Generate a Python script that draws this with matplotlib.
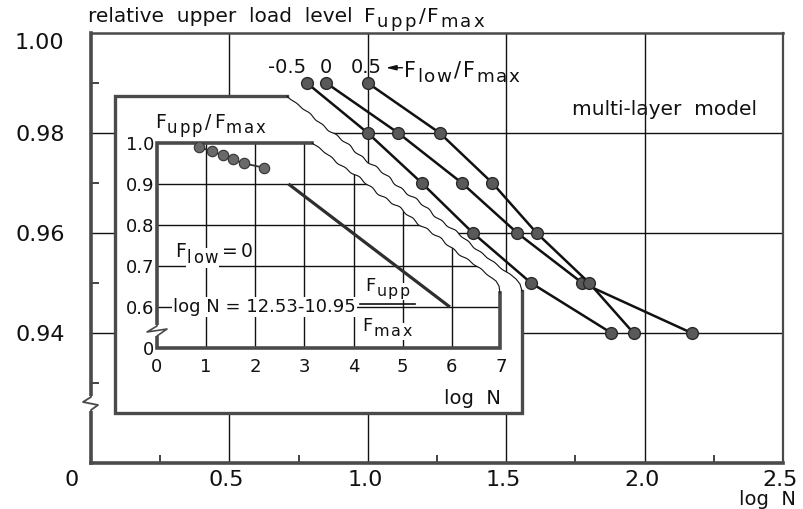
import numpy as np
import matplotlib
matplotlib.use("Agg")
import matplotlib.pyplot as plt
from matplotlib.transforms import Affine2D, ScaledTranslation
from matplotlib.patches import Polygon
from matplotlib.lines import Line2D

# ---------------------------------------------------------------- data
f_upp = [0.99, 0.98, 0.97, 0.96, 0.95, 0.94]          # relative upper load level
log_n_low_m05 = [0.78, 1.00, 1.195, 1.38, 1.59, 1.88]  # F_low/F_max = -0.5
log_n_low_0 = [0.85, 1.11, 1.34, 1.54, 1.775, 2.17]    # F_low/F_max = 0
log_n_low_05 = [1.00, 1.26, 1.45, 1.61, 1.80, 1.96]    # F_low/F_max = 0.5
f_low_labels = ["-0.5", "0", "0.5"]

main_xticks = [0, 0.5, 1.0, 1.5, 2.0, 2.5]
main_xticklabels = ["0", "0.5", "1.0", "1.5", "2.0", "2.5"]
main_yticks = [0.94, 0.96, 0.98, 1.00]
main_yticklabels = ["0.94", "0.96", "0.98", "1.00"]
main_xminor = [0.25, 0.75, 1.25, 1.75, 2.25]
main_yminor = [0.93, 0.95, 0.97, 0.99]

inset_xticks = [0, 1, 2, 3, 4, 5, 6, 7]
inset_xticklabels = ["0", "1", "2", "3", "4", "5", "6", "7"]
inset_yticks = [0.5, 0.6, 0.7, 0.8, 0.9, 1.0]
inset_yticklabels = ["0", "0.6", "0.7", "0.8", "0.9", "1.0"]

# fatigue line  log N = a - b * F_upp/F_max
fit_a, fit_b = 12.53, 10.95
fit_f = [0.9, 0.6]
fit_logn = [fit_a - fit_b * f for f in fit_f]

# ---------------------------------------------------------------- setup
plt.rcParams["font.family"] = ["DejaVu Sans"]

W, H = 804, 509
fig = plt.figure(figsize=(W / 100, H / 100), dpi=100)
RENDERER = fig.canvas.get_renderer()
# pixel coordinates measured from the top-left corner of the figure
PX = Affine2D().scale(1 / W, -1 / H).translate(0, 1) + fig.transFigure
INK = "#111111"
FRAME = "#4a4a4a"


def rich(x, base, parts, size, bbox=None, zorder=3):
    """Write text pieces (text, scale, drop, gap[, tracking]) on a common baseline."""
    texts, cur = [], x
    for part in parts:
        s, scale, drop, gap = part[:4]
        track = part[4] if len(part) > 4 else 0
        cur += gap
        chunks = list(s) if track else [s]
        for k, ch in enumerate(chunks):
            if k:
                cur += track
            t = fig.text(cur, base + drop, ch, transform=PX, fontsize=size * scale,
                         ha="left", va="baseline", color=INK, bbox=bbox, zorder=zorder)
            cur += t.get_window_extent(renderer=RENDERER).width
            texts.append(t)
    return texts, cur - x


def f_ratio(sub1, sub2, scale=0.88, drop=5, track=1.5, lead=0):
    return [("F", 1, 0, lead), (sub1, scale, drop, 1, track), ("/", 1, 0, 3),
            ("F", 1, 0, 2), (sub2, scale, drop, 1, track)]


# ---------------------------------------------------------------- main axes
ax = fig.add_axes([91 / W, (H - 463) / H, 692 / W, 430 / H])
ax.set_xlim(0, 2.5)
ax.set_ylim(0.914, 1.0)
for side, lw in (("left", 2.6), ("bottom", 2.6), ("top", 1.8), ("right", 1.6)):
    ax.spines[side].set_linewidth(lw)
    ax.spines[side].set_color(FRAME)

ax.set_xticks(main_xticks, main_xticklabels)
ax.set_yticks(main_yticks, main_yticklabels)
ax.set_xticks(main_xminor, minor=True)
ax.set_yticks(main_yminor, minor=True)
ax.tick_params(which="major", length=0, labelsize=16, colors=INK)
ax.tick_params(axis="y", which="major", pad=19)
ax.tick_params(axis="x", which="major", pad=5)
ax.tick_params(which="minor", direction="in", length=6, width=1.1, color=INK)

for lbl in ax.get_xticklabels():
    dx = -19 if lbl.get_text() == "0" else -3
    lbl.set_transform(lbl.get_transform() + ScaledTranslation(dx / 100, 0, fig.dpi_scale_trans))
for lbl in ax.get_yticklabels():
    if lbl.get_text() == "1.00":
        lbl.set_transform(lbl.get_transform() + ScaledTranslation(0, -8 / 100, fig.dpi_scale_trans))

for y in main_yticks[:-1]:
    ax.axhline(y, color=INK, lw=1.0, zorder=1)
for x in main_xticks[1:-1]:
    ax.axvline(x, color=INK, lw=1.0, zorder=1)

series = [log_n_low_m05, log_n_low_0, log_n_low_05]
label_dx = [-14, 0, -1]
for xs, lab, dx in zip(series, f_low_labels, label_dx):
    ax.plot(xs, f_upp, "-o", color=INK, lw=1.8, ms=8.5, mfc="#595959",
            mec="#2a2a2a", mew=1.0, zorder=4)
    ax.annotate(lab, xy=(xs[0], f_upp[0]), xytext=(dx, 11),
                textcoords="offset points", ha="center", va="center",
                fontsize=14, color=INK)

# arrow pointing from the F_low/F_max legend to the series labels
x05, y05 = log_n_low_05[0], f_upp[0]
head = ax.transData + ScaledTranslation(13 / 72, 11 / 72, fig.dpi_scale_trans)
ax.annotate("", xy=(x05, y05), xycoords=head, xytext=(12, 0),
            textcoords="offset points",
            arrowprops=dict(arrowstyle="-|>,head_length=0.6,head_width=0.15",
                            lw=1.0, color=INK, shrinkA=0, shrinkB=0))
rich(404, 77, f_ratio("low", "max"), 15)

ax.text(0.829, 0.821, "multi-layer  model", transform=ax.transAxes,
        ha="center", va="center", fontsize=14.5, color=INK)
ax.text(0.978, -0.086, "log  N", transform=ax.transAxes, ha="center",
        va="center", fontsize=14, color=INK)
rich(88, 22, [("relative  upper  load  level", 1, 0, 0)] +
     f_ratio("upp", "max", scale=0.9, track=2.5, lead=11), 14.5)

# axis break on the left spine
ax.add_patch(Polygon([(86, 396), (97, 396), (97, 411), (86, 411)], closed=True,
                     transform=PX, fc="white", ec="none", zorder=5, clip_on=False))
ax.add_line(Line2D([91, 91, 83, 98, 91, 91], [392, 397, 402, 405, 410, 414],
                   transform=PX, color=FRAME, lw=1.3, zorder=6, clip_on=False))


# ---------------------------------------------------------------- inset
def wavy(p0, p1, n=200, amp=0.9, period=17.0, phase=0.0):
    p0, p1 = np.asarray(p0, float), np.asarray(p1, float)
    d = p1 - p0
    length = np.hypot(*d)
    t = np.linspace(0, 1, n)
    s = t * length
    nrm = np.array([-d[1], d[0]]) / length
    env = np.sin(np.pi * t) ** 0.4
    off = env * (amp * np.sin(2 * np.pi * s / period + phase)
                 + 0.8 * amp * np.sin(2 * np.pi * s / (period * 2.9) + 1.3 + phase))
    return p0[None, :] + t[:, None] * d[None, :] + off[:, None] * nrm[None, :]


outer_cut = wavy((287, 96), (503, 270), phase=0.4)
outer_corner = np.array([(510, 274), (516, 279), (520, 284), (522, 291)])
outer_cut = np.vstack([outer_cut, outer_corner])
inner_cut = wavy((312, 143), (492, 278), phase=2.1)
inner_corner = np.array([(496, 281), (499, 286), (500, 293)])
inner_cut = np.vstack([inner_cut, inner_corner])

ax2 = fig.add_axes([157 / W, (H - 348) / H, 344 / W, 205 / H])
ax2.set_xlim(0, 7)
ax2.set_ylim(0.5, 1.0)
ax2.patch.set_visible(False)
for sp in ax2.spines.values():
    sp.set_visible(False)

outer_poly = np.vstack([[(115, 96)], outer_cut, [(522, 413), (115, 413)]])
ax2.add_patch(Polygon(outer_poly, closed=True, transform=PX, fc="white",
                      ec="none", zorder=-5, clip_on=False))
ax2.add_line(Line2D([287, 115, 115, 522, 522], [96, 96, 413, 413, 291],
                    transform=PX, color=FRAME, lw=2.4, zorder=3,
                    solid_joinstyle="miter", clip_on=False))
ax2.add_line(Line2D(outer_cut[:, 0], outer_cut[:, 1], transform=PX,
                    color=INK, lw=0.8, zorder=3, clip_on=False))

inner_poly = Polygon(np.vstack([[(157, 143)], inner_cut, [(500, 348), (157, 348)]]),
                     closed=True, transform=PX)
ax2.add_line(Line2D([312, 157, 157, 500, 500], [143, 143, 348, 348, 293],
                    transform=PX, color=FRAME, lw=2.6, zorder=3,
                    solid_joinstyle="miter", clip_on=False))
ax2.add_line(Line2D(inner_cut[:, 0], inner_cut[:, 1], transform=PX,
                    color=INK, lw=0.8, zorder=3, clip_on=False))

for x in inset_xticks[1:-1]:
    gl = ax2.axvline(x, color=INK, lw=1.0, zorder=0)
    gl.set_clip_path(inner_poly)
for y in inset_yticks[1:-1]:
    gl = ax2.axhline(y, color=INK, lw=1.0, zorder=0)
    gl.set_clip_path(inner_poly)

ax2.set_xticks(inset_xticks, inset_xticklabels)
ax2.set_yticks(inset_yticks, inset_yticklabels)
ax2.tick_params(length=0, labelsize=13, colors=INK)
ax2.tick_params(axis="x", pad=7)
ax2.tick_params(axis="y", pad=2)

ax2.plot(log_n_low_0, f_upp, "-o", color="#333333", lw=1.3, ms=7.5,
         mfc="#6a6a6a", mec="#333333", mew=0.8, zorder=4)
ax2.plot(fit_logn, fit_f, color="#2e2e2e", lw=2.3, solid_capstyle="butt", zorder=4)

# inset break on the left spine
ax2.add_patch(Polygon([(152, 325), (162, 325), (162, 336), (152, 336)], closed=True,
                      transform=PX, fc="white", ec="none", zorder=5, clip_on=False))
ax2.add_line(Line2D([157, 157, 147, 167, 157, 157], [322, 326, 332, 329, 336, 339],
                    transform=PX, color=FRAME, lw=1.2, zorder=6, clip_on=False))

box = dict(fc="white", ec="none", pad=1.0)
rich(155, 128, f_ratio("upp", "max", track=2), 13.5)
rich(175, 257, [("F", 1, 0, 0), ("low", 0.88, 6, 1, 1.5), ("=", 1, 0, 4),
                ("0", 1, 0, 3)], 13.5, bbox=box)

# regression formula with a built-up fraction
_, w_lhs = rich(173, 312, [("log N = 12.53-10.95", 1, 0, 0)], 13, bbox=box)
num, w_num = rich(0, 291, [("F", 1, 0, 0), ("upp", 0.88, 5, 1, 1.5)], 13, bbox=box)
den, w_den = rich(0, 331, [("F", 1, 0, 0), ("max", 0.88, 5, 1, 1.5)], 13, bbox=box)
x_bar = 173 + w_lhs + 4
w_bar = max(w_num, w_den) + 6
for group, w in ((num, w_num), (den, w_den)):
    for t in group:
        px_, py_ = t.get_position()
        t.set_position((px_ + x_bar + (w_bar - w) / 2, py_))
fig.add_artist(Line2D([x_bar, x_bar + w_bar], [304, 304], transform=PX,
                      color=INK, lw=1.2, zorder=5))

ax2.text(0.916, -0.245, "log  N", transform=ax2.transAxes, ha="center",
         va="center", fontsize=14, color=INK)

fig.savefig("out.png", dpi=100, facecolor="white")
